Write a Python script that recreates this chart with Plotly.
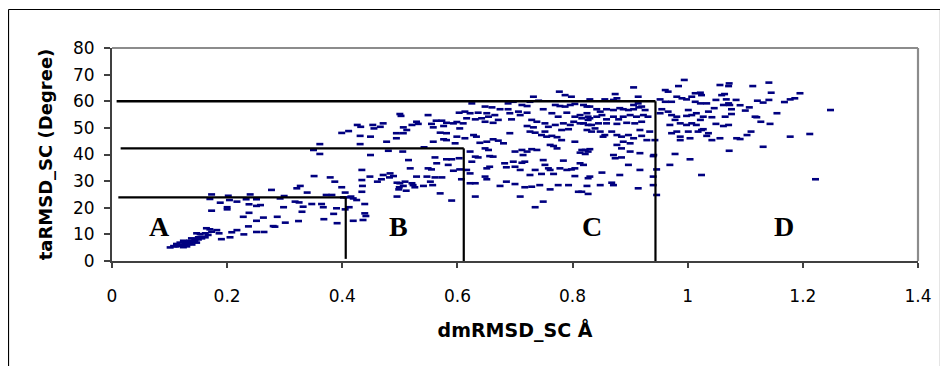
import plotly.graph_objects as go

# ---- data ----
pts_a = [(0.173,25.0),(0.170,23.3),(0.202,24.5),(0.204,22.9),(0.188,21.9),(0.217,22.3),(0.200,20.2),(0.200,19.4),
         (0.240,25.0),(0.233,23.2),(0.251,23.2),(0.238,21.3),(0.251,20.7),(0.258,21.0),(0.173,18.9),(0.238,18.1),
         (0.228,16.6),(0.251,15.1),(0.263,16.3),(0.277,26.7),(0.299,24.4),(0.292,23.5),(0.298,20.2),(0.287,16.6),
         (0.283,12.9),(0.301,14.4),(0.321,27.3),(0.318,22.3),(0.325,22.0),(0.324,15.0),(0.280,13.1),(0.264,10.9),
         (0.251,10.9),(0.237,13.0),(0.229,10.0),(0.217,11.6),(0.208,10.8),(0.205,8.9),(0.190,8.2),(0.182,11.6),
         (0.186,10.4),(0.173,11.0),(0.170,11.9),(0.164,12.3),(0.167,9.8),(0.162,8.9),(0.153,10.1),(0.156,9.1),
         (0.147,10.4),(0.150,8.9),(0.144,8.2),(0.138,8.5),(0.135,7.6),(0.130,7.2),(0.124,7.6),(0.118,6.9),
         (0.112,6.4),(0.107,5.6),(0.101,5.1),(0.127,6.0),(0.133,6.4),(0.141,7.2),(0.121,6.0),(0.115,5.6),
         (0.135,6.6),(0.144,7.6),(0.147,6.9),(0.156,8.5),(0.124,5.2),(0.130,5.5),(0.150,8.1),(0.162,10.4),
         (0.110,5.5),(0.119,5.8),(0.128,6.8),(0.139,6.2),(0.327,28.2)]

pts_b = [(0.339,25.7),(0.351,31.9),(0.379,31.4),(0.387,29.8),(0.399,27.7),(0.405,25.7),(0.402,23.9),(0.372,24.8),
         (0.382,24.8),(0.408,23.9),(0.419,23.5),(0.425,22.9),(0.415,24.2),(0.434,26.0),(0.435,28.2),(0.439,21.4),
         (0.412,20.2),(0.405,19.4),(0.390,19.8),(0.385,17.7),(0.439,17.9),(0.441,16.9),(0.436,15.4),(0.419,15.1),
         (0.391,14.2),(0.368,15.7),(0.367,20.2),(0.364,21.4),(0.347,21.4),(0.332,20.4),(0.330,18.5),
         (0.361,43.9),(0.361,40.2),(0.350,41.7),(0.399,48.1),(0.411,48.8),(0.426,51.1),(0.432,50.4),(0.431,47.0),
         (0.431,43.9),(0.453,51.1),(0.455,49.8),(0.466,50.4),(0.471,51.7),(0.477,44.8),(0.494,48.0),(0.494,46.1),
         (0.449,39.8),(0.449,46.7),(0.480,41.4),(0.500,55.2),(0.502,54.5),(0.506,50.2),(0.512,49.2),(0.506,48.0),
         (0.505,41.1),(0.515,37.9),(0.518,34.8),
         (0.434,34.2),(0.448,31.7),(0.434,30.4),(0.471,32.3),(0.483,32.9),(0.482,31.4),(0.489,31.9),(0.468,30.7),
         (0.461,29.8),(0.495,29.4),(0.500,29.2),(0.509,29.8),(0.499,27.7),(0.498,26.9),(0.511,26.4),(0.506,28.2),
         (0.495,24.2)]

pts_c1 = [(0.521,29.2),(0.529,31.7),(0.523,28.5),(0.526,27.7),(0.541,28.2),(0.547,31.7),(0.549,34.8),(0.555,34.4),
          (0.553,29.8),(0.561,31.4),(0.564,36.7),(0.561,38.9),(0.573,31.4),(0.557,28.5),(0.570,25.4),(0.584,36.1),
          (0.581,38.2),(0.590,38.2),(0.593,33.9),(0.603,38.6),(0.604,34.4),(0.590,22.7),(0.607,30.7),
          (0.549,54.8),(0.603,55.7),(0.593,51.7),(0.599,52.2),(0.581,51.9),(0.573,52.7),(0.563,52.7),(0.555,51.5),
          (0.558,50.2),(0.576,50.7),(0.529,52.3),(0.521,51.1),(0.532,51.5),(0.558,44.8),(0.581,45.4),(0.576,45.7),
          (0.542,42.7),(0.581,48.0),(0.570,48.2),(0.599,46.7),(0.596,44.2)]

pts_c2 = [(0.777,63.6),(0.787,62.3),(0.798,61.7),(0.732,61.7),(0.726,59.8),(0.741,60.2),(0.697,59.8),(0.688,59.2),
          (0.625,59.2),(0.712,58.6),(0.721,58.2),(0.770,58.6),(0.778,58.2),(0.787,58.0),(0.796,58.6),(0.804,59.0),
          (0.825,58.0),(0.648,58.0),(0.660,57.7),(0.674,57.0),(0.613,56.1),(0.622,55.5),(0.636,55.7),(0.651,55.5),
          (0.688,57.0),(0.691,55.5),(0.706,56.1),(0.749,57.0),(0.764,55.5),(0.775,54.2),(0.790,55.7),(0.804,54.2),
          (0.816,53.6),(0.827,54.2),(0.827,53.0),(0.813,51.7),(0.827,51.1),
          (0.616,53.6),(0.631,53.2),(0.642,53.6),(0.654,54.2),(0.665,54.8),(0.671,53.0),(0.662,51.9),(0.648,52.3),
          (0.694,53.2),(0.709,54.8),(0.721,55.7),(0.729,53.0),(0.738,52.3),(0.721,50.7),(0.732,50.2),(0.752,51.7),
          (0.758,50.4),(0.770,51.1),(0.784,51.7),(0.796,51.1),(0.781,49.2),(0.793,49.5),(0.802,52.3),(0.604,49.8),
          (0.610,51.7),
          (0.628,47.3),(0.633,46.7),(0.613,46.1),(0.639,44.4),(0.651,44.8),(0.662,45.7),(0.671,45.2),(0.680,44.2),
          (0.648,42.3),(0.654,41.7),(0.662,39.2),(0.656,39.4),(0.691,48.0),(0.700,41.1),(0.712,41.7),(0.721,41.1),
          (0.729,42.0),(0.714,39.8),(0.738,41.7),(0.726,48.6),(0.735,48.2),(0.746,47.3),(0.755,46.7),(0.764,47.0),
          (0.773,46.5),(0.781,45.4),(0.752,48.6),(0.761,43.6),(0.773,42.3),(0.767,43.2),(0.804,44.8),(0.813,40.7),
          (0.822,41.7),(0.827,41.1),
          (0.622,41.1),(0.631,39.2),(0.636,38.9),(0.625,37.3),(0.616,34.2),(0.622,32.9),(0.651,34.8),(0.656,35.4),
          (0.682,36.7),(0.685,35.2),(0.697,37.3),(0.700,35.4),(0.712,36.9),(0.717,37.3),(0.709,34.2),(0.726,32.3),
          (0.735,34.2),(0.749,37.9),(0.752,36.1),(0.746,32.7),(0.758,34.8),(0.761,34.2),(0.767,32.7),(0.778,34.8),
          (0.790,34.2),(0.798,34.4),(0.804,34.8),(0.813,36.7),(0.784,37.7),(0.804,31.9),
          (0.648,31.7),(0.651,30.7),(0.631,29.2),(0.622,29.2),(0.674,28.2),(0.685,29.8),(0.700,28.9),(0.717,27.7),
          (0.729,27.9),(0.743,28.5),(0.761,26.9),(0.775,28.5),(0.793,28.5),(0.810,26.0),(0.816,26.0),(0.709,24.2),
          (0.631,24.2),(0.735,20.2),(0.749,22.3),(0.827,31.1)]

pts_c3 = [(0.906,65.2),(0.914,61.7),(0.874,62.7),(0.877,61.1),(0.830,60.7),(0.856,60.7),(0.871,60.5),
          (0.819,58.6),(0.830,58.0),(0.842,57.0),(0.848,56.1),(0.859,57.0),(0.871,56.7),(0.882,57.4),(0.888,57.0),
          (0.897,56.7),(0.906,57.0),(0.915,57.7),(0.920,58.0),(0.926,56.7),(0.906,58.6),(0.914,59.2),
          (0.813,54.8),(0.825,55.5),(0.830,53.6),(0.842,54.2),(0.851,54.8),(0.859,53.2),(0.871,54.2),(0.880,53.2),
          (0.888,54.2),(0.900,54.8),(0.911,54.2),(0.923,54.8),(0.931,54.2),(0.920,52.3),(0.908,51.7),(0.894,51.9),
          (0.877,51.5),(0.859,51.7),(0.845,51.7),(0.833,51.1),(0.819,51.7),
          (0.825,49.2),(0.833,48.6),(0.839,49.8),(0.848,48.6),(0.856,47.3),(0.868,48.6),(0.877,47.3),(0.885,46.7),
          (0.897,47.3),(0.906,46.1),(0.917,49.2),(0.920,47.0),(0.934,48.6),(0.929,45.4),(0.888,44.8),(0.900,44.2),
          (0.877,43.6),(0.853,46.7),
          (0.816,41.7),(0.830,42.0),(0.822,40.2),(0.885,42.3),(0.900,41.1),(0.917,40.5),(0.871,39.8),(0.874,38.6),
          (0.885,38.9),(0.940,39.4),
          (0.819,36.1),(0.897,36.1),(0.917,34.2),(0.946,34.4),(0.882,32.3),(0.851,33.2),(0.830,31.7),(0.848,28.5),
          (0.868,29.4),(0.871,28.5),(0.914,27.3),(0.940,31.7),(0.940,28.5),(0.946,24.8),(0.827,25.2),(0.825,28.2),
          (0.943,45.4),(0.941,39.8)]

pts_d = [(0.994,68.0),(0.984,65.7),(0.961,64.2),(0.966,63.6),(0.952,60.7),(0.961,59.8),(0.972,59.8),(0.981,61.7),
         (0.990,61.1),(0.998,60.7),(1.007,61.7),(1.013,63.0),(1.022,63.2),(1.024,62.3),(1.013,59.8),(1.022,59.2),
         (1.033,59.2),
         (0.955,57.0),(0.952,55.5),(0.966,56.1),(0.972,54.8),(0.981,54.2),(0.998,54.5),(1.007,54.8),(1.015,55.5),
         (1.001,56.7),(1.022,53.0),(1.027,54.2),(1.036,56.1),
         (0.969,51.1),(0.978,53.0),(0.987,51.7),(0.998,51.1),(1.007,51.7),(1.015,51.1),(1.027,49.5),(1.018,48.6),
         (1.001,48.6),(0.981,48.6),(0.972,48.0),(0.987,46.7),(0.987,45.4),(1.004,46.1),(1.036,48.0),
         (0.978,40.2),(1.004,38.2),(0.969,36.1),(1.024,32.3),
         (1.072,66.7),(1.071,65.7),(1.056,66.1),(1.113,65.7),(1.141,67.0),(1.145,63.2),(1.195,63.0),(1.186,61.1),
         (1.178,60.7),(1.168,59.7),(1.141,60.5),(1.131,59.5),(1.121,60.2),
         (1.059,62.3),(1.064,62.7),(1.067,60.7),(1.071,59.2),(1.073,58.6),(1.062,58.6),(1.049,60.5),(1.084,60.5),
         (1.091,58.5),(1.100,56.5),(1.107,57.7),(1.076,57.0),(1.076,55.2),(1.065,54.2),(1.071,51.1),(1.062,50.7),
         (1.049,51.5),(1.042,54.0),(1.046,57.4),
         (1.117,54.2),(1.120,54.0),(1.127,52.3),(1.143,51.5),(1.155,55.5),(1.212,47.7),(1.178,46.7),(1.131,42.9),
         (1.110,48.6),(1.103,47.3),(1.091,45.8),(1.085,46.1),(1.072,41.4),(1.056,46.1),(1.042,45.4),(1.033,47.0),
         (1.024,49.2),(1.222,30.7),(1.248,56.7)]

# region boundaries (dmRMSD_SC, taRMSD_SC)
box_x_start = [0.011, 0.015, 0.008]
box_x_end = [0.406, 0.611, 0.944]
box_y = [23.9, 42.3, 60.0]
box_y_bottom = [0.8, 0.0, 0.0]

region_labels = ["A", "B", "C", "D"]
region_label_x = [0.083, 0.4985, 0.834, 1.167]
region_label_y = [12.8, 12.8, 12.8, 12.8]

x_ticks = [0, 0.2, 0.4, 0.6, 0.8, 1, 1.2, 1.4]
x_tick_text = ["0", "0.2", "0.4", "0.6", "0.8", "1", "1.2", "1.4"]
y_ticks = [0, 10, 20, 30, 40, 50, 60, 70, 80]

all_pts = pts_a + pts_b + pts_c1 + pts_c2 + pts_c3 + pts_d
dm = [p[0] for p in all_pts]
ta = [p[1] for p in all_pts]

# page body has an 8px margin -> figure coordinates are screen - 8
OFF = 8
W, H = 948 - OFF, 366 - OFF
L, R, T, B = 112 - OFF, 918 - OFF, 48 - OFF, 261 - OFF

fig = go.Figure()
fig.add_trace(go.Scatter(
    x=dm, y=ta, mode="markers",
    marker=dict(symbol="line-ew", size=5, color="#000080",
                line=dict(color="#000080", width=2.6)),
    showlegend=False, hoverinfo="x+y"))

shapes = []
for xs, xe, yv, yb in zip(box_x_start, box_x_end, box_y, box_y_bottom):
    shapes.append(dict(type="line", xref="x", yref="y", x0=xs, x1=xe, y0=yv, y1=yv,
                       line=dict(color="black", width=2.4)))
    shapes.append(dict(type="line", xref="x", yref="y", x0=xe, x1=xe, y0=yv, y1=yb,
                       line=dict(color="black", width=2.2)))

# plot-area border (top and right, gray)
shapes.append(dict(type="line", xref="paper", yref="paper", x0=0, x1=1, y0=1, y1=1,
                   line=dict(color="#8c8c8c", width=2.2)))
shapes.append(dict(type="line", xref="paper", yref="paper", x0=1, x1=1, y0=0, y1=1,
                   line=dict(color="#8c8c8c", width=2.2)))

# outer chart frame (left, top, right) in screen pixels
def px(xs):
    return (xs - OFF - L) / (R - L)
def py(ys):
    return (B - (ys - OFF)) / (B - T)
fx0, fx1, fy0, fy1 = px(8.5), px(940.5), py(9.5), py(380)
frame = dict(color="black", width=1.2)
shapes.append(dict(type="line", xref="paper", yref="paper", x0=fx0, x1=fx0, y0=fy1, y1=fy0, line=frame))
shapes.append(dict(type="line", xref="paper", yref="paper", x0=fx0, x1=fx1, y0=fy0, y1=fy0, line=frame))
shapes.append(dict(type="line", xref="paper", yref="paper", x0=fx1, x1=fx1, y0=fy1, y1=fy0, line=frame))

annotations = []
for t, ax, ay in zip(region_labels, region_label_x, region_label_y):
    annotations.append(dict(x=ax, y=ay, xref="x", yref="y", text="<b>%s</b>" % t,
                            showarrow=False, xanchor="center", yanchor="middle",
                            font=dict(family="Liberation Serif", size=28, color="black")))

fig.update_layout(
    width=W, height=H,
    margin=dict(l=L, r=W - R, t=T, b=H - B),
    paper_bgcolor="white", plot_bgcolor="white",
    shapes=shapes, annotations=annotations,
    font=dict(family="DejaVu Sans", color="black"),
)
fig.update_xaxes(
    range=[0, 1.4], tickvals=x_ticks, ticktext=x_tick_text,
    showgrid=False, zeroline=False, showline=True, linecolor="#404040", linewidth=2,
    ticks="outside", ticklen=5, tickcolor="#404040", tickwidth=1.5,
    tickfont=dict(family="DejaVu Sans", size=17, color="black"),
    ticklabelstandoff=14,
    title=dict(text="<b>dmRMSD_SC Å</b>", font=dict(family="DejaVu Sans", size=19, color="black"),
               standoff=18),
    automargin=False,
)
fig.update_yaxes(
    range=[0, 80], tickvals=y_ticks,
    showgrid=False, zeroline=False, showline=True, linecolor="#404040", linewidth=2,
    ticks="outside", ticklen=6, tickcolor="#404040", tickwidth=1.5,
    tickfont=dict(family="DejaVu Sans", size=17, color="black"),
    ticklabelstandoff=6,
    title=dict(text="<b>taRMSD_SC (Degree)</b>", font=dict(family="DejaVu Sans", size=18, color="black"),
               standoff=16),
    automargin=False,
)

fig.write_html("out.html")
